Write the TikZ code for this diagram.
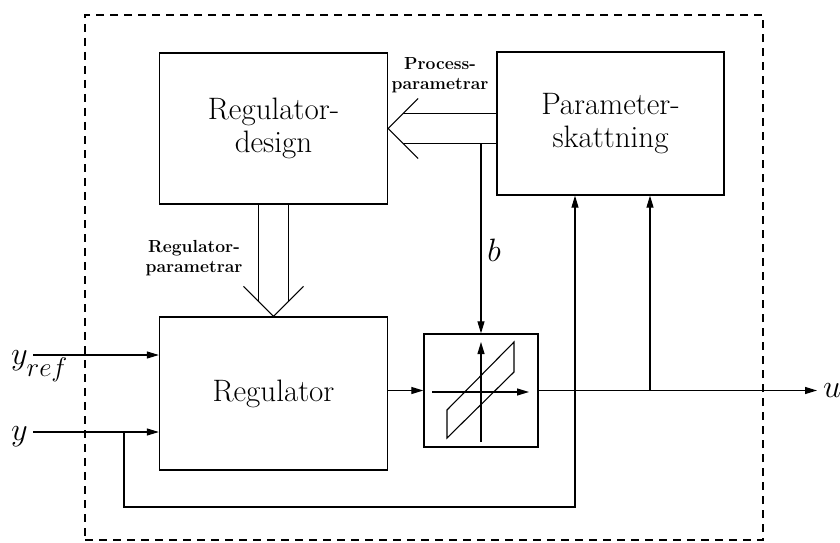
\documentclass[tikz,border=0pt]{standalone}
\usepackage{graphicx}
\usetikzlibrary{arrows.meta}
\newcommand{\mylabvar}[1]{\scalebox{1.3}{\fontsize{24.88}{30}\selectfont$#1$}}
\begin{document}
\begin{tikzpicture}[x=1pt,y=-1pt,
  blk/.style={draw,line width=1.3pt,inner sep=0pt,align=center,font=\fontsize{31}{33}\selectfont},
  conn/.style={line width=1.1pt},
  arr/.style={conn,-{Triangle[length=12pt,width=7pt]}},
  small/.style={font=\fontsize{17.5}{20}\selectfont\bfseries,align=center,inner sep=0pt},
  lab/.style={inner sep=0pt}]
\useasboundingbox (0,0) rectangle (840,543);
\node[draw,line width=1.3pt,dash pattern=on 8pt off 6pt,minimum width=678pt,minimum height=525pt,inner sep=0pt] (frame) at (424,277.5) {};
% blocks
\node[blk,minimum width=228pt,minimum height=151pt] (rd) at (273.5,128.5) {Regulator-\\design};
\node[blk,minimum width=227pt,minimum height=143pt] (ps) at (610.5,123.5) {Parameter-\\skattning};
\node[blk,minimum width=228pt,minimum height=153pt] (reg) at (273.5,393.5) {Regulator};
\node[draw,line width=1.3pt,minimum width=114pt,minimum height=113pt,inner sep=0pt] (hy) at (481,390.5) {};
% vertical double arrow
\draw[conn] ([xshift=-30pt,yshift=30pt]reg.north) -- (reg.north) -- ([xshift=30pt,yshift=30pt]reg.north);
\draw[conn] ([xshift=-15pt]rd.south) -- ([xshift=-15pt,yshift=15pt]reg.north);
\draw[conn] ([xshift=15pt]rd.south) -- ([xshift=15pt,yshift=15pt]reg.north);
% horizontal double arrow
\coordinate (hu) at ([yshift=15pt]rd.east);
\coordinate (hl) at ([yshift=-15pt]rd.east);
\draw[conn] ([xshift=30pt,yshift=30pt]rd.east) -- (rd.east) -- ([xshift=30pt,yshift=-30pt]rd.east);
\draw[conn] ([xshift=15pt]hu) -- (hu -| ps.west);
\draw[conn] ([xshift=15pt]hl) -- (hl -| ps.west);
% b
\draw[arr] (hl -| hy.north) -- (hy.north);
\node[lab] (b) at (494,250) {\mylabvar{b}};
% labels
\node[small] (pp) at (440,75) {Process-\\parametrar};
\node[small] (rp) at (194,258) {Regulator-\\parametrar};
% inputs
\coordinate (yrefs) at (33,355);
\coordinate (ys) at (33,432);
\draw[arr] (yrefs) -- (yrefs -| reg.west);
\draw[arr] (ys) -- (ys -| reg.west);
\node[lab,anchor=base west] (yref) at (11,364) {\mylabvar{y_{\lower5.5pt\hbox{$\scriptstyle ref$}}}};
\node[lab,anchor=base west] (y) at (11,440) {\mylabvar{y}};
% feedback
\coordinate (fb) at (124,432);
\coordinate (fbr) at (575,507);
\draw[arr] (fb) |- (fbr) -- (fbr |- ps.south);
% regulator to hysteresis
\draw[arr] (reg.east |- hy.west) -- (hy.west);
% output
\coordinate (uend) at (817,390.5);
\draw[arr] (hy.east) -- (uend);
\node[lab,anchor=west] (u) at ([xshift=6pt]uend) {\mylabvar{u}};
\coordinate (br) at (650,390.5);
\draw[arr] (br) -- (br |- ps.south);
% hysteresis
\draw[arr] (432,392) -- (529,392);
\draw[arr] (481,442) -- (481,342);
\draw[conn] (447,410) -- (514,342) -- (514,372) -- (447,438) -- cycle;
\end{tikzpicture}
\end{document}
